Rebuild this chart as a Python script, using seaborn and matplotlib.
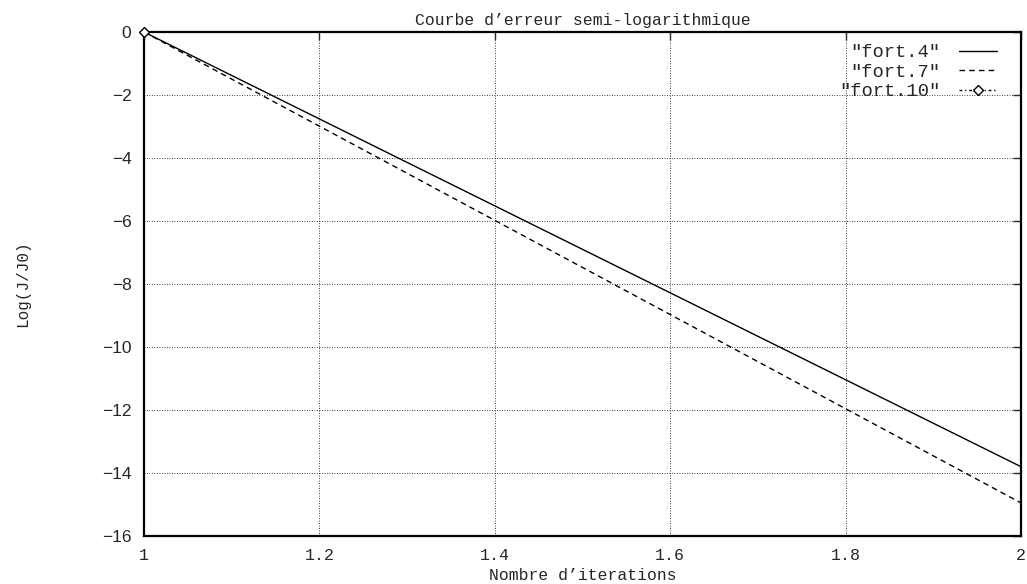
import numpy as np
import pandas as pd
import matplotlib
matplotlib.use("Agg")
import matplotlib.pyplot as plt
import seaborn as sns

# ---------------------------
# Data
# ---------------------------
iters = [1.0, 2.0]
fort4 = [0.0, -13.8]
fort7 = [0.0, -14.95]
fort10_x = [1.0]
fort10_y = [0.0]

x_ticks = [1, 1.2, 1.4, 1.6, 1.8, 2]
x_labels = ["1", "1.2", "1.4", "1.6", "1.8", "2"]
y_ticks = [0, -2, -4, -6, -8, -10, -12, -14, -16]

MONO = ["Liberation Mono", "DejaVu Sans Mono"]
SANS = ["Liberation Sans", "DejaVu Sans"]

sns.set_style("white")
plt.rcParams["font.family"] = MONO
plt.rcParams["axes.unicode_minus"] = True

fig = plt.figure(figsize=(10.27, 5.84), dpi=100)
ax = fig.add_axes([144 / 1027, 1 - 536 / 584, (1021 - 144) / 1027, (536 - 32) / 584])

df4 = pd.DataFrame({"x": iters, "y": fort4})
df7 = pd.DataFrame({"x": iters, "y": fort7})
df10 = pd.DataFrame({"x": fort10_x, "y": fort10_y})

sns.lineplot(data=df4, x="x", y="y", ax=ax, color="black", lw=1.0,
             label='"fort.4"')
sns.lineplot(data=df7, x="x", y="y", ax=ax, color="black", lw=1.0,
             linestyle=(0, (4, 3)), label='"fort.7"')
sns.lineplot(data=df10, x="x", y="y", ax=ax, color="black", lw=1.0,
             linestyle=(0, (2, 2, 1, 2)), marker="D", markersize=5,
             markerfacecolor="white", markeredgecolor="black", markeredgewidth=1.0,
             label='"fort.10"', clip_on=False, zorder=5)

ax.set_xlim(1, 2)
ax.set_ylim(-16, 0)
ax.set_xticks(x_ticks)
ax.set_xticklabels(x_labels, fontfamily=MONO, fontsize=12)
ax.set_yticks(y_ticks)
ax.set_yticklabels([str(v).replace("-", "\u2212") for v in y_ticks], fontfamily=SANS, fontsize=12.5)

ax.grid(True, color="black", linestyle=(0, (1, 2)), lw=0.6)
ax.tick_params(direction="in", length=6, width=1.0, top=True, right=True,
               labeltop=False, labelright=False, pad=9)
for s in ax.spines.values():
    s.set_color("black")
    s.set_linewidth(1.6)

ax.set_title("Courbe d\u2019erreur semi-logarithmique", fontsize=11.8, pad=5)
ax.set_xlabel("Nombre d\u2019iterations", fontsize=11.8, labelpad=3)
ax.set_ylabel("Log(J/J0)", fontsize=11.5, labelpad=52)

leg = ax.legend(loc="upper right", bbox_to_anchor=(1.0, 1.024), frameon=False,
                markerfirst=False, prop={"family": MONO, "size": 13.5},
                handlelength=2.0, labelspacing=0.12, borderaxespad=0.9,
                handletextpad=1.0)
for t in leg.get_texts():
    t.set_ha("right")

fig.savefig("out.png", dpi=100)
